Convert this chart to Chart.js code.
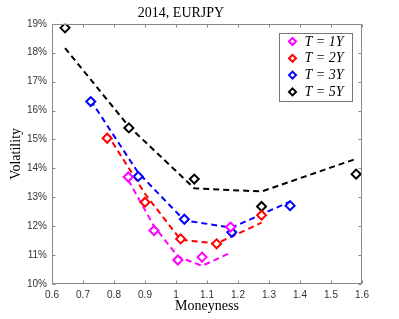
<!DOCTYPE html>
<html>
<head>
<meta charset="utf-8">
<script src="https://cdn.jsdelivr.net/npm/chart.js@4.4.1/dist/chart.umd.min.js"></script>
<style>
  html, body { margin: 0; padding: 0; background: #fff; }
  #smile { display: block; }
</style>
</head>
<body>
<canvas id="smile" width="399" height="319"></canvas>
<script>
const seriesNames = ["T = 1Y", "T = 2Y", "T = 3Y", "T = 5Y"];
const seriesColors = ["#ff00ff", "#ff0000", "#0000ff", "#000000"];

// moneyness, market vol (%), fitted vol (%) per maturity
const money1Y = [0.846, 0.929, 1.006, 1.084, 1.176];
const vol1Y = [13.70, 11.85, 10.83, 10.93, 11.97];
const fit1Y = [13.60, 12.00, 10.95, 10.63, 11.08];

const money2Y = [0.778, 0.900, 1.015, 1.131, 1.276];
const vol2Y = [15.04, 12.83, 11.56, 11.39, 12.38];
const fit2Y = [15.19, 13.12, 11.53, 11.40, 12.12];

const money3Y = [0.725, 0.878, 1.027, 1.180, 1.368];
const vol3Y = [16.31, 13.72, 12.24, 11.79, 12.71];
const fit3Y = [16.35, 13.85, 12.20, 11.95, 12.85];

const money5Y = [0.642, 0.848, 1.059, 1.276, 1.581];
const vol5Y = [18.86, 15.40, 13.63, 12.68, 13.80];
const fit5Y = [18.16, 15.45, 13.31, 13.20, 14.33];

const xTicks = [0.6, 0.7, 0.8, 0.9, 1, 1.1, 1.2, 1.3, 1.4, 1.5, 1.6];
const yTicks = [10, 11, 12, 13, 14, 15, 16, 17, 18, 19];

const moneyAll = [money1Y, money2Y, money3Y, money5Y];
const volAll = [vol1Y, vol2Y, vol3Y, vol5Y];
const fitAll = [fit1Y, fit2Y, fit3Y, fit5Y];

const toPoints = (xs, ys) => xs.map((x, i) => ({ x: x, y: ys[i] }));

let datasets = [];
seriesNames.forEach((name, i) => {
  datasets.push({
    label: name,
    data: toPoints(moneyAll[i], volAll[i]),
    showLine: false,
    pointStyle: "rectRot",
    pointRadius: 4.5,
    pointBorderWidth: 2,
    borderColor: seriesColors[i],
    pointBorderColor: seriesColors[i],
    pointBackgroundColor: "#ffffff",
    order: 0,
  });
  datasets.push({
    label: name + " fit",
    data: toPoints(moneyAll[i], fitAll[i]),
    showLine: true,
    borderColor: seriesColors[i],
    borderWidth: 2,
    borderDash: [6, 4],
    pointRadius: 0,
    tension: 0,
    order: 1,
  });
});

const serif = "'Liberation Serif', 'DejaVu Serif', serif";
const sans = "'Liberation Sans', Arial, sans-serif";

// box, inward ticks and legend drawn like the matlab figure
const framePlugin = {
  id: "frame",
  afterDraw(chart) {
    const c = chart.ctx;
    const a = chart.chartArea;
    const L = Math.round(a.left) + 0.5;
    const R = Math.round(a.right) - 0.5;
    const T = Math.round(a.top) + 0.5;
    const B = Math.round(a.bottom) - 0.5;
    c.save();
    c.strokeStyle = "#8a8a8a";
    c.lineWidth = 1;
    c.strokeRect(L, T, R - L, B - T);
    c.beginPath();
    chart.scales.x.ticks.forEach((t) => {
      const px = Math.round(chart.scales.x.getPixelForValue(t.value)) + 0.5;
      c.moveTo(px, B); c.lineTo(px, B - 3);
      c.moveTo(px, T); c.lineTo(px, T + 3);
    });
    chart.scales.y.ticks.forEach((t) => {
      const py = Math.round(chart.scales.y.getPixelForValue(t.value)) + 0.5;
      c.moveTo(L, py); c.lineTo(L + 3, py);
      c.moveTo(R, py); c.lineTo(R - 3, py);
    });
    c.stroke();

    // legend
    const bw = 73, bh = 68;
    const bx = Math.round(a.right) - 10 - bw + 0.5;
    const by = Math.round(a.top) + 9 + 0.5;
    c.fillStyle = "#ffffff";
    c.fillRect(bx, by, bw, bh);
    c.strokeStyle = "#777";
    c.strokeRect(bx, by, bw, bh);
    seriesNames.forEach((name, i) => {
      const cy = by + 8 + i * 16.8;
      const cx = bx + 13;
      c.beginPath();
      c.moveTo(cx - 3.5, cy);
      c.lineTo(cx, cy - 3.5);
      c.lineTo(cx + 3.5, cy);
      c.lineTo(cx, cy + 3.5);
      c.closePath();
      c.fillStyle = "#fff";
      c.fill();
      c.lineWidth = 2;
      c.strokeStyle = seriesColors[i];
      c.stroke();
      c.fillStyle = "#000";
      c.font = "italic 14px " + serif;
      c.textBaseline = "middle";
      c.textAlign = "left";
      c.fillText(name, bx + 25, cy + 0.5);
    });
    c.restore();
  },
};

new Chart(document.getElementById("smile"), {
  type: "scatter",
  data: { datasets: datasets },
  options: {
    responsive: false,
    animation: false,
    devicePixelRatio: 1,
    layout: { padding: { left: 0, right: 37, top: 0, bottom: 0 } },
    plugins: {
      legend: { display: false },
      tooltip: { enabled: false },
      title: {
        display: true,
        text: "2014, EURJPY",
        color: "#000",
        font: { family: serif, size: 14, weight: "normal" },
        padding: { top: 5, bottom: 2 },
      },
    },
    scales: {
      x: {
        type: "linear",
        min: xTicks[0],
        max: xTicks[xTicks.length - 1],
        afterBuildTicks: (s) => { s.ticks = xTicks.map((v) => ({ value: v })); },
        afterFit: (s) => { s.height = 35; },
        grid: { drawOnChartArea: false, drawTicks: false },
        border: { display: false },
        ticks: {
          padding: 5,
          maxRotation: 0,
          autoSkip: false,
          color: "#333",
          font: { family: sans, size: 10 },
          callback: (v) => String(Number(v.toFixed(1))),
        },
        title: {
          display: true,
          text: "Moneyness",
          color: "#000",
          font: { family: serif, size: 14 },
          padding: { top: 0, bottom: 4 },
        },
      },
      y: {
        min: yTicks[0],
        max: yTicks[yTicks.length - 1],
        afterBuildTicks: (s) => { s.ticks = yTicks.map((v) => ({ value: v })); },
        afterFit: (s) => { s.width = 52; },
        grid: { drawOnChartArea: false, drawTicks: false },
        border: { display: false },
        ticks: {
          padding: 5,
          color: "#333",
          font: { family: sans, size: 10 },
          callback: (v) => v + "%",
        },
        title: {
          display: true,
          text: "Volatility",
          color: "#000",
          font: { family: serif, size: 14 },
          padding: { top: 8, bottom: 0 },
        },
      },
    },
  },
  plugins: [framePlugin],
});
</script>
</body>
</html>
